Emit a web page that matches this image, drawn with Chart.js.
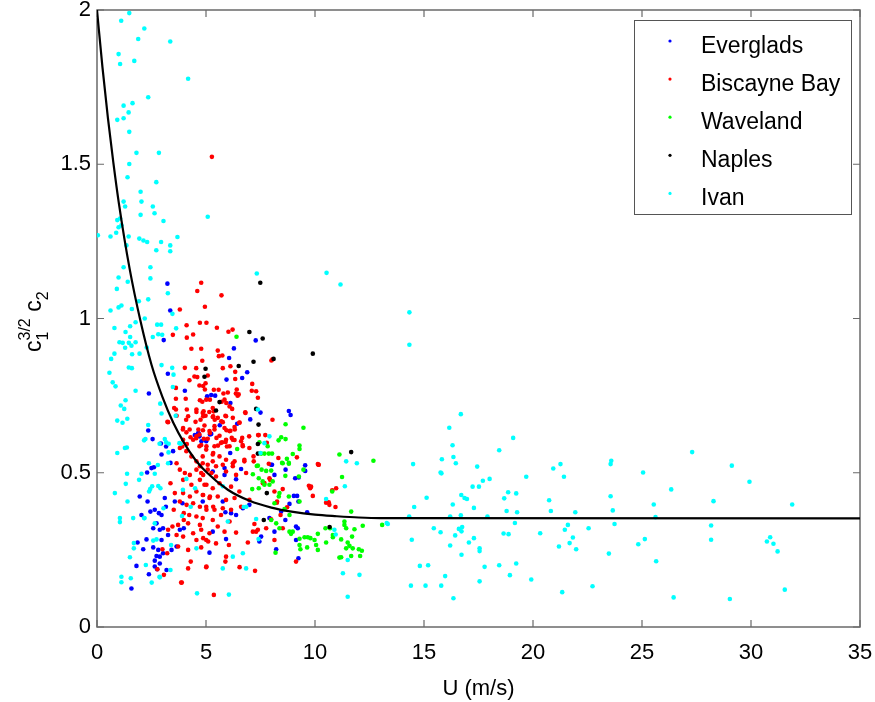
<!DOCTYPE html>
<html>
<head>
<meta charset="utf-8">
<script src="https://cdn.jsdelivr.net/npm/chart.js@4.4.1/dist/chart.umd.min.js"></script>
<style>
  html, body { margin: 0; padding: 0; background: #fff; }
  canvas { display: block; }
</style>
</head>
<body>
<canvas id="drag" width="875" height="702"></canvas>
<script>
// wind speed U (m/s) vs c1^(3/2) c2, one [U, value] pair per observation
const everglades = [
  [3.23,1.113],[3.36,1.026],[3.06,0.93],[3.25,0.821],[2.38,0.757],[6.28,0.903],[6.06,0.872],[7.28,0.929],
  [5.94,0.802],[6.66,0.807],[6.89,0.826],[4.03,0.766],[5.05,0.748],[5.24,0.752],[5.42,0.75],[6.12,0.726],
  [8.80,0.70],[8.88,0.687],[7.50,0.695],[7.03,0.673],[6.43,0.659],[5.63,0.654],[2.35,0.637],[2.55,0.609],
  [4.49,0.622],[4.67,0.627],[5.24,0.626],[5.01,0.602],[3.17,0.585],[2.93,0.595],[3.49,0.57],[2.96,0.559],
  [3.37,0.532],[2.61,0.518],[5.18,0.624],[6.11,0.564],[5.85,0.515],[6.61,0.512],[7.99,0.526],[9.55,0.524],
  [8.03,0.526],[8.65,0.51],[9.09,0.482],[9.25,0.485],[9.55,0.506],[6.38,0.479],[5.85,0.493],[5.31,0.504],
  [8.14,0.493],[8.83,0.399],[9.03,0.425],[9.18,0.425],[9.24,0.407],[9.64,0.372],[8.45,0.374],[7.91,0.353],
  [8.64,0.347],[9.13,0.326],[9.21,0.32],[8.14,0.309],[7.53,0.293],[7.45,0.277],[9.13,0.282],[8.22,0.252],
  [9.24,0.223],[5.16,0.241],[5.92,0.285],[5.31,0.309],[5.89,0.372],[6.15,0.369],[6.38,0.363],[6.69,0.385],
  [6.99,0.396],[5.77,0.407],[4.85,0.407],[2.50,0.515],[2.30,0.501],[1.96,0.423],[2.04,0.363],[2.32,0.407],
  [2.45,0.374],[2.65,0.38],[2.84,0.369],[3.11,0.418],[3.16,0.39],[2.96,0.363],[3.57,0.407],[3.92,0.401],
  [2.73,0.336],[2.58,0.32],[2.88,0.315],[3.03,0.32],[3.26,0.298],[2.96,0.282],[2.27,0.284],[1.86,0.274],
  [2.12,0.252],[2.58,0.258],[2.81,0.25],[2.73,0.23],[2.88,0.228],[3.03,0.239],[2.65,0.215],[2.88,0.206],
  [2.65,0.196],[2.76,0.187],[3.19,0.185],[1.81,0.198],[2.38,0.171],[1.58,0.125],[3.42,0.25],[3.65,0.261],
  [3.80,0.315],[3.98,0.32],[4.70,0.618],[4.64,0.629],[4.79,0.602]
];

const biscayne = [
  [5.27,1.524],[4.78,1.116],[4.60,1.089],[5.71,1.075],[4.95,1.038],[3.80,1.029],[4.72,0.986],[5.02,0.986],
  [4.11,0.978],[5.50,0.970],[6.03,0.957],[6.22,0.964],[3.48,0.947],[4.41,0.948],[4.12,0.938],[4.33,0.902],
  [4.78,0.902],[5.54,0.896],[5.59,0.878],[5.75,0.88],[4.83,0.863],[8.00,0.864],[8.05,0.868],[4.03,0.840],
  [4.55,0.839],[5.77,0.839],[6.12,0.845],[6.34,0.827],[4.47,0.812],[4.60,0.81],[5.08,0.815],[6.34,0.804],
  [4.24,0.800],[4.70,0.783],[4.98,0.79],[4.95,0.77],[3.62,0.775],[5.36,0.769],[5.58,0.769],[5.80,0.757],
  [6.0,0.76],[6.37,0.757],[6.45,0.75],[7.12,0.788],[7.10,0.766],[7.30,0.764],[3.62,0.740],[4.07,0.740],
  [4.72,0.735],[4.83,0.730],[5.72,0.730],[5.93,0.726],[6.08,0.715],[6.20,0.707],[3.62,0.705],[4.12,0.705],
  [4.56,0.697],[4.89,0.699],[5.15,0.697],[5.35,0.699],[5.89,0.685],[6.80,0.696],[7.38,0.743],[4.09,0.672],
  [4.52,0.665],[4.75,0.672],[4.98,0.685],[5.40,0.672],[5.70,0.667],[6.54,0.663],[3.23,0.665],[8.05,0.672],
  [7.39,0.622],[7.72,0.622],[7.42,0.622],[7.79,0.597],[3.94,0.640],[4.25,0.64],[4.65,0.64],[4.86,0.638],
  [5.16,0.635],[5.39,0.64],[5.94,0.638],[6.12,0.636],[6.32,0.64],[4.29,0.615],[4.55,0.612],[4.90,0.61],
  [5.08,0.61],[5.48,0.613],[5.74,0.599],[5.90,0.60],[6.18,0.613],[6.31,0.606],[6.66,0.613],[4.12,0.593],
  [4.78,0.59],[5.55,0.588],[6.68,0.59],[3.91,0.585],[5.96,0.585],[6.98,0.618],[6.69,0.586],[6.99,0.580],
  [3.54,0.710],[3.65,0.685],[3.26,0.664],[3.95,0.645],[4.10,0.631],[3.95,0.607],[3.80,0.580],[4.10,0.570],
  [4.33,0.553],[4.56,0.537],[4.72,0.521],[4.87,0.781],[5.18,0.737],[4.56,0.705],[4.87,0.683],[4.18,0.683],
  [5.18,0.629],[4.56,0.618],[5.02,0.586],[5.33,0.564],[4.41,0.607],[5.33,0.683],[6.41,0.770],[6.50,0.754],
  [5.01,0.737],[5.31,0.710],[5.85,0.737],[6.81,0.694],[4.85,0.694],[5.31,0.681],[5.54,0.678],[5.77,0.664],
  [5.92,0.683],[6.23,0.678],[6.53,0.662],[4.93,0.653],[5.39,0.651],[5.85,0.645],[6.08,0.635],[6.31,0.648],
  [4.70,0.624],[5.62,0.620],[5.92,0.607],[6.23,0.607],[6.61,0.602],[4.70,0.586],[5.01,0.575],[5.39,0.586],
  [5.69,0.597],[6.08,0.586],[4.85,0.553],[5.31,0.559],[5.62,0.553],[5.92,0.542],[6.31,0.537],[6.76,0.542],
  [7.18,0.553],[8.32,0.548],[9.17,0.550],[10.17,0.526],[5.08,0.526],[5.46,0.521],[6.23,0.521],[3.65,0.531],
  [3.80,0.510],[3.37,0.466],[4.03,0.499],[4.26,0.493],[4.56,0.510],[4.87,0.493],[5.25,0.499],[3.95,0.477],
  [4.33,0.461],[4.72,0.477],[5.02,0.461],[3.57,0.434],[3.95,0.434],[4.26,0.423],[4.56,0.439],[4.87,0.428],
  [5.18,0.423],[3.80,0.407],[4.11,0.396],[4.41,0.401],[4.72,0.390],[5.02,0.380],[3.52,0.380],[3.98,0.369],
  [4.23,0.363],[4.56,0.358],[5.33,0.390],[3.72,0.331],[3.98,0.347],[4.18,0.336],[4.72,0.331],[3.46,0.326],
  [3.26,0.315],[4.41,0.304],[3.65,0.298],[3.95,0.293],[4.87,0.288],[4.56,0.282],[5.10,0.277],[3.72,0.261],
  [4.18,0.250],[3.22,0.239],[3.00,0.252],[4.30,0.212],[4.18,0.190],[5.02,0.196],[2.77,0.187],[3.07,0.169],
  [3.89,0.144],[5.36,0.104],[4.85,0.531],[5.31,0.537],[5.77,0.526],[6.23,0.531],[6.76,0.537],[7.19,0.537],
  [4.78,0.499],[5.08,0.510],[5.46,0.488],[5.92,0.504],[6.38,0.493],[6.84,0.499],[7.61,0.466],[7.91,0.482],
  [4.93,0.461],[5.31,0.450],[5.62,0.466],[6.15,0.455],[6.53,0.439],[6.99,0.412],[8.14,0.439],[8.25,0.403],
  [4.85,0.428],[5.16,0.418],[5.54,0.423],[5.92,0.412],[6.31,0.418],[5.01,0.390],[5.39,0.380],[5.77,0.385],
  [6.15,0.380],[6.61,0.390],[4.85,0.353],[5.31,0.347],[5.69,0.363],[6.08,0.342],[7.15,0.309],[7.38,0.315],
  [4.78,0.315],[5.16,0.304],[5.54,0.326],[5.85,0.309],[6.38,0.306],[5.01,0.282],[5.46,0.271],[6.05,0.266],
  [6.92,0.274],[4.78,0.258],[5.92,0.228],[5.89,0.212],[5.01,0.194],[6.54,0.194],[7.25,0.182],[8.14,0.282],
  [8.52,0.320],[9.13,0.212],[9.82,0.455],[9.90,0.425],[10.51,0.403],[10.66,0.396],[10.97,0.450],[10.16,0.526],
  [7.99,0.349],[8.72,0.388],[8.42,0.363],[8.26,0.407],[8.52,0.447],[7.76,0.32],[7.30,0.309],[7.22,0.334],
  [7.68,0.467],[7.94,0.477],[7.88,0.529],[10.13,0.528],[10.79,0.443],[10.94,0.389],[10.63,0.404],[9.72,0.458],
  [9.78,0.45],[3.86,0.144]
];

const waveland = [
  [6.40,0.941],[8.65,0.657],[9.47,0.646],[8.45,0.615],[8.65,0.609],[8.33,0.605],[9.29,0.588],[9.29,0.577],
  [7.45,0.599],[7.83,0.586],[7.53,0.562],[7.68,0.562],[7.88,0.562],[8.03,0.562],[8.71,0.545],[8.49,0.532],
  [8.80,0.532],[8.98,0.561],[11.12,0.559],[7.38,0.523],[6.43,0.577],[7.33,0.522],[7.15,0.495],[7.55,0.51],
  [7.76,0.506],[7.99,0.507],[8.52,0.531],[8.80,0.529],[8.64,0.490],[9.26,0.488],[9.47,0.510],[7.42,0.482],
  [7.60,0.472],[7.68,0.461],[7.91,0.461],[8.06,0.472],[7.12,0.447],[7.42,0.450],[8.37,0.434],[8.34,0.423],
  [8.14,0.401],[8.80,0.423],[9.29,0.407],[8.60,0.382],[8.22,0.336],[7.99,0.347],[8.83,0.363],[8.37,0.320],
  [8.83,0.309],[8.90,0.302],[8.98,0.309],[9.29,0.286],[9.52,0.291],[9.67,0.291],[9.79,0.288],[10.13,0.302],
  [9.98,0.282],[9.29,0.266],[9.33,0.252],[9.64,0.258],[10.05,0.266],[10.13,0.250],[10.48,0.320],[10.69,0.320],
  [10.82,0.298],[11.24,0.486],[10.79,0.439],[11.66,0.374],[11.35,0.342],[11.35,0.331],[11.43,0.320],[11.81,0.317],
  [11.20,0.284],[11.50,0.274],[11.58,0.263],[11.43,0.255],[11.73,0.255],[11.12,0.225],[11.66,0.230],[12.01,0.252],
  [12.07,0.230],[12.15,0.247],[12.19,0.328],[12.68,0.539],[13.08,0.331],[8.19,0.241],[10.51,0.274],[10.82,0.291],
  [11.70,0.293],[11.20,0.226]
];

const naples = [
  [7.49,1.116],[6.99,0.956],[7.60,0.935],[9.90,0.886],[8.10,0.869],[7.18,0.86],[6.50,0.846],[4.98,0.837],
  [4.93,0.811],[5.62,0.729],[5.46,0.702],[7.30,0.707],[7.41,0.656],[7.38,0.593],[7.38,0.562],[7.79,0.434],
  [7.65,0.347],[11.66,0.567],[10.67,0.324]
];

const ivan = [
  [1.48,1.99],[1.11,1.965],[2.17,1.94],[1.89,1.906],[3.36,1.898],[0.99,1.857],[1.71,1.835],[1.06,1.825],
  [4.18,1.777],[2.35,1.717],[1.63,1.698],[1.22,1.69],[1.45,1.668],[1.22,1.649],[0.93,1.644],[1.48,1.605],
  [1.81,1.537],[2.84,1.537],[1.48,1.501],[1.40,1.458],[2.72,1.442],[2.00,1.411],[1.22,1.379],[2.04,1.379],
  [1.29,1.363],[2.56,1.363],[2.64,1.341],[2.00,1.336],[5.08,1.330],[0.93,1.319],[3.05,1.316],[1.06,1.324],
  [1.12,1.302],[0.99,1.296],[0.88,1.278],[0.62,1.266],[1.45,1.266],[0.04,1.27],[1.94,1.259],[2.13,1.253],
  [2.30,1.248],[3.69,1.264],[2.94,1.248],[3.36,1.237],[1.35,1.237],[2.72,1.221],[3.36,1.218],[1.22,1.166],
  [2.45,1.166],[0.99,1.133],[2.45,1.13],[1.41,1.119],[7.33,1.146],[0.91,1.096],[3.25,1.082],[2.35,1.062],
  [1.92,1.056],[1.12,1.042],[0.99,1.036],[0.62,1.026],[1.60,1.031],[3.46,1.015],[2.19,1.0],[10.53,1.148],
  [11.17,1.11],[14.33,1.02],[14.33,0.915],[1.77,0.988],[2.76,0.98],[2.94,0.98],[0.80,0.969],[1.52,0.975],
  [1.31,0.956],[1.03,0.923],[1.18,0.921],[1.52,0.94],[1.46,0.921],[1.58,0.912],[1.29,0.905],[1.77,0.923],
  [2.56,0.94],[2.81,0.949],[2.99,0.947],[3.63,0.968],[2.28,0.906],[0.80,0.886],[1.61,0.884],[1.95,0.886],
  [0.65,0.869],[1.46,0.841],[1.60,0.839],[2.96,0.849],[3.45,0.84],[0.57,0.824],[3.51,0.818],[0.72,0.793],
  [0.85,0.78],[3.48,0.778],[1.77,0.766],[2.90,0.724],[1.09,0.718],[1.31,0.735],[1.25,0.707],[2.96,0.692],
  [3.61,0.685],[0.93,0.669],[1.17,0.662],[1.39,0.675],[2.35,0.655],[2.22,0.609],[2.16,0.605],[3.11,0.609],
  [1.28,0.58],[1.37,0.582],[2.87,0.594],[3.29,0.594],[3.84,0.594],[2.38,0.531],[2.04,0.497],[2.65,0.497],
  [1.38,0.497],[1.32,0.464],[1.93,0.477],[0.82,0.434],[1.40,0.407],[2.39,0.439],[2.81,0.457],[2.91,0.45],
  [1.66,0.353],[1.05,0.353],[1.05,0.340],[2.16,0.353],[2.65,0.336],[2.73,0.284],[2.58,0.28],[1.69,0.272],
  [1.69,0.255],[1.51,0.226],[2.24,0.201],[2.88,0.161],[1.12,0.163],[1.12,0.145],[1.55,0.158],[3.26,0.531],
  [4.59,0.109],[4.56,0.255],[0.93,0.564],[3.17,0.599],[3.28,0.566],[2.79,0.525],[2.53,0.456],[2.44,0.447],
  [2.18,0.353],[3.05,0.385],[3.40,0.266],[2.51,0.144],[3.37,0.185],[2.87,0.163],[6.05,0.105],[3.78,0.596],
  [3.94,0.445],[4.50,0.45],[5.77,0.456],[6.00,0.342],[6.69,0.239],[6.84,0.19],[5.77,0.19],[6.23,0.228],
  [6.73,0.389],[6.85,0.39],[7.38,0.705],[7.68,0.596],[7.50,0.564],[7.41,0.285],[7.30,0.35],[7.91,0.618],
  [10.89,0.315],[10.95,0.30],[11.43,0.537],[11.92,0.531],[11.37,0.456],[11.28,0.174],[11.50,0.098],[12.04,0.169],
  [11.50,0.217],[13.29,0.337],[10.51,0.415],[4.10,0.48],[3.9,0.36],[4.3,0.39],
  [13.34,0.334],[14.32,0.358],[14.55,0.389],[14.50,0.528],[14.44,0.283],[15.12,0.419],[14.81,0.198],[15.19,0.200],
  [14.40,0.134],[15.07,0.134],[15.79,0.134],[15.45,0.320],[15.76,0.307],[15.82,0.544],[15.76,0.501],[15.80,0.498],
  [16.16,0.646],[16.31,0.589],[16.35,0.551],[16.46,0.531],[16.69,0.690],[16.71,0.428],[16.32,0.397],[16.20,0.358],
  [16.69,0.362],[16.60,0.318],[16.75,0.324],[16.72,0.310],[16.43,0.297],[16.20,0.264],[16.72,0.234],[15.97,0.165],
  [16.35,0.093],[16.86,0.418],[16.97,0.415],[17.29,0.386],[17.44,0.520],[17.23,0.455],[17.52,0.455],[17.70,0.474],
  [18.01,0.480],[17.06,0.274],[17.29,0.288],[17.55,0.255],[17.55,0.246],[17.78,0.195],[17.55,0.148],[17.91,0.358],
  [18.45,0.573],[18.68,0.417],[18.86,0.437],[18.79,0.376],[19.23,0.433],[19.27,0.372],[19.09,0.613],[19.17,0.337],
  [18.65,0.303],[18.88,0.301],[18.45,0.200],[19.23,0.206],[18.94,0.168],[19.69,0.487],[19.92,0.154],[20.33,0.304],
  [20.74,0.411],[20.82,0.376],[20.93,0.514],[21.26,0.528],[21.42,0.487],[21.19,0.261],[21.46,0.315],[21.60,0.331],
  [21.68,0.272],[21.83,0.290],[21.98,0.252],[21.34,0.113],[21.94,0.372],[22.55,0.320],[22.73,0.132],[23.48,0.238],
  [23.56,0.528],[23.59,0.539],[23.56,0.424],[23.66,0.378],[23.74,0.334],[24.83,0.268],[25.05,0.501],[25.13,0.285],
  [25.54,0.397],[25.65,0.213],[26.34,0.446],[26.45,0.096],[27.30,0.567],[28.17,0.329],[28.17,0.283],[28.28,0.408],
  [29.03,0.091],[29.12,0.523],[29.93,0.471],[30.73,0.277],[30.88,0.291],[31.03,0.270],[31.22,0.245],[31.55,0.121],
  [31.89,0.397],[25.62,0.356]
];

const fitU = [0, 0.25, 0.5, 0.75, 1, 1.5, 2, 2.5, 3, 3.5, 4, 4.5, 5, 6, 7, 8, 9, 10, 11, 12, 13, 35];
const fitC = [2.0, 1.815, 1.65, 1.505, 1.375, 1.16, 0.99, 0.85, 0.746, 0.662, 0.596, 0.543, 0.503,
              0.445, 0.409, 0.387, 0.373, 0.364, 0.359, 0.355, 0.353, 0.352];

const xTicks = [0, 5, 10, 15, 20, 25, 30, 35];
const yTicks = [0, 0.5, 1, 1.5, 2];

const FONT = "'Liberation Sans', Arial, Helvetica, sans-serif";

const toPts = arr => arr.map(p => ({ x: p[0], y: p[1] }));

function dots(label, data, color, order) {
  return {
    type: 'scatter',
    label: label,
    data: toPts(data),
    backgroundColor: color,
    borderColor: color,
    pointRadius: 2.3,
    pointBorderWidth: 0,
    pointHoverRadius: 2.3,
    order: order
  };
}

// inward ticks + box, like the old matlab axes
const axesBox = {
  id: 'axesBox',
  beforeDatasetsDraw(chart) {
    const { ctx, chartArea: a, scales: { x, y } } = chart;
    ctx.save();
    ctx.strokeStyle = '#6a6a6a';
    ctx.lineWidth = 1.5;
    ctx.strokeRect(a.left, a.top, a.right - a.left, a.bottom - a.top);
    ctx.lineWidth = 1.2;
    ctx.beginPath();
    xTicks.forEach(v => {
      const px = x.getPixelForValue(v);
      ctx.moveTo(px, a.bottom); ctx.lineTo(px, a.bottom - 7);
      ctx.moveTo(px, a.top); ctx.lineTo(px, a.top + 7);
    });
    yTicks.forEach(v => {
      const py = y.getPixelForValue(v);
      ctx.moveTo(a.left, py); ctx.lineTo(a.left + 7, py);
      ctx.moveTo(a.right, py); ctx.lineTo(a.right - 7, py);
    });
    ctx.stroke();
    ctx.restore();
  },
  afterDraw(chart) {
    const { ctx, chartArea: a } = chart;
    ctx.save();
    ctx.fillStyle = '#000';

    // x title
    ctx.font = '22px ' + FONT;
    ctx.textAlign = 'center';
    ctx.textBaseline = 'alphabetic';
    ctx.fillText('U (m/s)', (a.left + a.right) / 2, 695);

    // y title: c_1^{3/2} c_2, rotated
    ctx.translate(41, 352);
    ctx.rotate(-Math.PI / 2);
    ctx.textAlign = 'left';
    const big = '23px ' + FONT, small = '16px ' + FONT;
    let cx = 0;
    ctx.font = big;
    ctx.fillText('c', cx, 0);
    cx += ctx.measureText('c').width;
    ctx.font = small;
    ctx.fillText('1', cx, 7);
    ctx.fillText('3/2', cx, -11);
    cx += ctx.measureText('3/2').width;
    ctx.font = big;
    cx += ctx.measureText(' ').width;
    ctx.fillText('c', cx, 0);
    cx += ctx.measureText('c').width;
    ctx.font = small;
    ctx.fillText('2', cx, 7);
    ctx.restore();
  }
};

// boxed legend in the upper right of the plot
const boxLegend = {
  id: 'boxLegend',
  afterDraw(chart) {
    const { ctx } = chart;
    const items = chart.data.datasets.filter(d => d.type === 'scatter');
    ctx.save();
    ctx.fillStyle = '#fff';
    ctx.fillRect(634.5, 20.5, 217, 194);
    ctx.strokeStyle = '#555';
    ctx.lineWidth = 1;
    ctx.strokeRect(634.5, 20.5, 217, 194);
    ctx.font = '23px ' + FONT;
    ctx.textBaseline = 'alphabetic';
    items.forEach((d, i) => {
      const yy = 41 + i * 38.1;
      ctx.fillStyle = d.backgroundColor;
      ctx.beginPath();
      ctx.arc(670, yy, 1.6, 0, Math.PI * 2);
      ctx.fill();
      ctx.fillStyle = '#000';
      ctx.fillText(d.label, 701, yy + 11.5);
    });
    ctx.restore();
  }
};

new Chart(document.getElementById('drag'), {
  data: {
    datasets: [
      dots('Everglads', everglades, '#0000ff', 5),
      dots('Biscayne Bay', biscayne, '#ff0000', 4),
      dots('Waveland', waveland, '#00ff00', 3),
      dots('Naples', naples, '#000000', 2),
      dots('Ivan', ivan, '#00ffff', 1),
      {
        type: 'line',
        label: 'fit',
        data: fitU.map((u, i) => ({ x: u, y: fitC[i] })),
        borderColor: '#000',
        borderWidth: 2.2,
        pointRadius: 0,
        cubicInterpolationMode: 'monotone',
        order: 0
      }
    ]
  },
  options: {
    responsive: false,
    animation: false,
    events: [],
    layout: { padding: { left: 0, right: 15, top: 10, bottom: 0 } },
    plugins: { legend: { display: false }, tooltip: { enabled: false } },
    scales: {
      x: {
        type: 'linear',
        min: 0, max: 35,
        afterFit: s => { s.height = 75; s.paddingLeft = 0; s.paddingRight = 0; },
        afterBuildTicks: s => { s.ticks = xTicks.map(v => ({ value: v })); },
        grid: { display: false, drawTicks: false },
        border: { display: false },
        ticks: { color: '#000', padding: 13, maxRotation: 0, font: { family: FONT, size: 22 },
                 callback: v => String(v) }
      },
      y: {
        type: 'linear',
        min: 0, max: 2,
        afterFit: s => { s.width = 97; s.paddingTop = 0; s.paddingBottom = 0; },
        afterBuildTicks: s => { s.ticks = yTicks.map(v => ({ value: v })); },
        grid: { display: false, drawTicks: false },
        border: { display: false },
        ticks: { color: '#000', padding: 6, font: { family: FONT, size: 22 },
                 callback: v => String(v) }
      }
    }
  },
  plugins: [axesBox, boxLegend]
});
</script>
</body>
</html>
